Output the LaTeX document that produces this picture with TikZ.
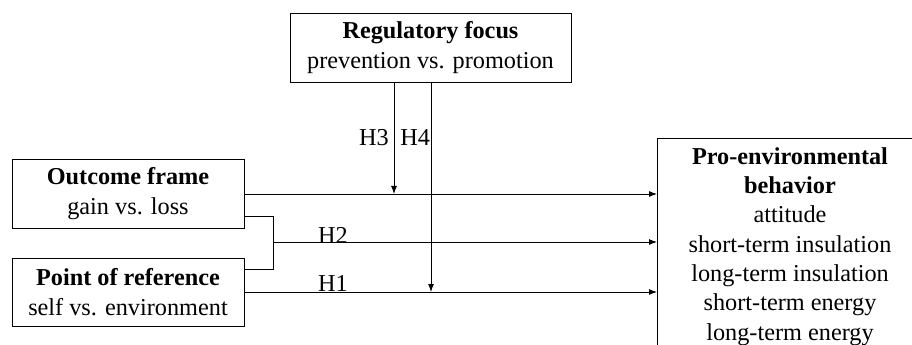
\documentclass[tikz,border=0pt]{standalone}
\usepackage{fontspec}
\setmainfont{Liberation Serif}
\usetikzlibrary{arrows.meta}
\tikzset{
  box/.style={draw, line width=0.7pt, align=center, inner sep=0pt},
  conn/.style={line width=0.7pt},
  arr/.style={line width=0.7pt, -{Latex[length=6pt,width=4.5pt]}},
  lbl/.style={inner sep=0pt, font=\fontsize{18.2}{22}\selectfont},
}
\begin{document}
\begin{tikzpicture}[x=0.75pt, y=-0.75pt, font=\fontsize{18.2}{22}\selectfont]
\clip (0,0) rectangle (912,345);
\fill[white] (0,0) rectangle (912,345);
% boxes
\node[box, minimum width=281*0.75pt, minimum height=69*0.75pt] (reg) at (430.5,47.5)
  {\textbf{Regulatory focus}\\prevention vs. promotion};
\node[box, minimum width=232*0.75pt, minimum height=69*0.75pt] (out) at (128,193.5)
  {\textbf{Outcome frame}\\gain vs. loss};
\node[box, minimum width=232*0.75pt, minimum height=68*0.75pt] (por) at (128,292)
  {\textbf{Point of reference}\\self vs. environment};
\node[draw, line width=0.7pt, anchor=north west, minimum width=300*0.75pt, minimum height=240*0.75pt, inner sep=0pt] (peb) at (657,138) {};
\node[anchor=north, align=center, inner sep=0pt] (pebtext) at (790,147)
  {\textbf{Pro-environmental}\\\textbf{behavior}\\attitude\\short-term insulation\\long-term insulation\\short-term energy\\long-term energy};
% coordinates
\coordinate (h3top) at (reg.south -| 394,0);
\coordinate (h3end) at (394,194);
\coordinate (h4top) at (reg.south -| 431,0);
\coordinate (h4end) at (431,292);
\coordinate (b1) at (out.east |- 0,216);
\coordinate (b2) at (273,216);
\coordinate (b3) at (273,269);
\coordinate (b4) at (por.east |- 0,269);
\coordinate (bm) at (273,242);
% connectors
\draw[arr] (out.east |- 0,194) -- (peb.west |- 0,194);
\draw[arr] (por.east |- 0,292) -- (peb.west |- 0,292);
\draw[conn] (b1) -- (b2) -- (b3) -- (b4);
\draw[arr] (bm) -- (peb.west |- bm);
\draw[arr] (h3top) -- (h3end);
\draw[arr] (h4top) -- (h4end);
% labels
\node[lbl, anchor=east] (lh3) at (389,138) {H3};
\node[lbl, anchor=west] (lh4) at (400,138) {H4};
\node[lbl] (lh2) at (333,235) {H2};
\node[lbl] (lh1) at (333,283) {H1};
\end{tikzpicture}
\end{document}
